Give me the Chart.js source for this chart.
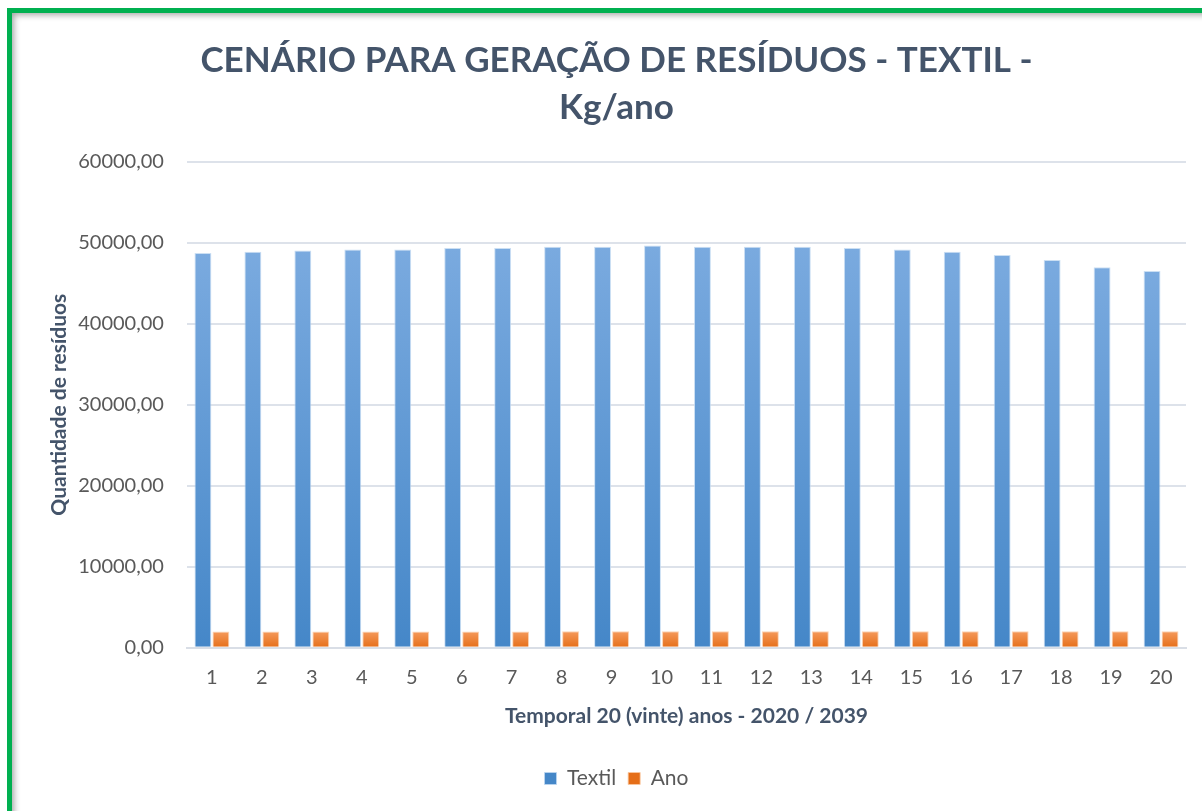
<!DOCTYPE html>
<html>
<head>
    <title>Cenário Textil</title>
    <script src="https://cdn.jsdelivr.net/npm/chart.js"></script>
    <style>
        body { margin: 0; background: #fff; overflow: hidden; }
        .frame {
            position: absolute; left: 7px; top: 8px; width: 1200px; height: 810px;
            border-top: 5px solid #00b050; border-left: 5px solid #00b050;
            box-shadow: inset 4px 4px 6px -2px rgba(0, 0, 0, 0.35);
        }
        #chart { position: absolute; left: 0; top: 0; }
    </style>
</head>
<body>
    <div class="frame">
        <canvas id="chart" width="1190" height="798"></canvas>
    </div>
    <script>
        // valores
        var periodos = ['1', '2', '3', '4', '5', '6', '7', '8', '9', '10',
            '11', '12', '13', '14', '15', '16', '17', '18', '19', '20'];
        var textil = [48700, 48860, 49030, 49150, 49150, 49320, 49320, 49480, 49480, 49650,
            49480, 49480, 49480, 49320, 49150, 48860, 48460, 47840, 46940, 46490];
        var ano = [2020, 2021, 2022, 2023, 2024, 2025, 2026, 2027, 2028, 2029,
            2030, 2031, 2032, 2033, 2034, 2035, 2036, 2037, 2038, 2039];

        var tituloCor = '#44546a';
        var textoCor = '#595959';
        var fonte = 'Lato, "Open Sans", sans-serif';

        // gradiente por barra (claro em cima, escuro embaixo)
        function gradiente(topo, base, meio) {
            return function (ctx) {
                var chart = ctx.chart;
                if (ctx.type !== 'data' || !chart.chartArea || !chart.scales.y) return meio;
                var y = chart.scales.y;
                var yTop = y.getPixelForValue(ctx.raw);
                var yBase = y.getPixelForValue(0);
                if (!isFinite(yTop) || yTop === yBase) return meio;
                var g = chart.ctx.createLinearGradient(0, yTop, 0, yBase);
                g.addColorStop(0, topo);
                g.addColorStop(1, base);
                return g;
            };
        }

        var ctx = document.getElementById('chart').getContext('2d');
        new Chart(ctx, {
            type: 'bar',
            data: {
                labels: periodos,
                datasets: [{
                    label: 'Textil',
                    data: textil,
                    backgroundColor: gradiente('#7aaadf', '#4587c8', '#5b9bd5'),
                    borderColor: 'rgba(190, 215, 240, 0.8)',
                    borderWidth: 1
                }, {
                    label: 'Ano',
                    data: ano,
                    backgroundColor: gradiente('#f59a5c', '#e56e18', '#ed7d31'),
                    borderColor: 'rgba(250, 200, 160, 0.8)',
                    borderWidth: 1
                }]
            },
            options: {
                responsive: false,
                animation: false,
                layout: { padding: { left: 35, right: 16, top: 20, bottom: 12 } },
                datasets: {
                    bar: { categoryPercentage: 0.72, barPercentage: 0.94 }
                },
                plugins: {
                    title: {
                        display: true,
                        text: ['CENÁRIO PARA GERAÇÃO DE RESÍDUOS - TEXTIL -', 'Kg/ano'],
                        color: tituloCor,
                        font: { family: fonte, size: 35, weight: 'bold', lineHeight: 1.35 },
                        padding: { top: 4, bottom: 30 }
                    },
                    legend: {
                        position: 'bottom',
                        labels: {
                            color: textoCor,
                            font: { family: fonte, size: 21 },
                            boxWidth: 12,
                            boxHeight: 12,
                            padding: 12
                        }
                    },
                    tooltip: { enabled: false }
                },
                scales: {
                    x: {
                        grid: { display: false },
                        border: { color: '#d9dee6', width: 2 },
                        ticks: { color: textoCor, font: { family: fonte, size: 20 }, padding: 10 },
                        title: {
                            display: true,
                            text: 'Temporal 20 (vinte) anos - 2020 / 2039',
                            color: tituloCor,
                            font: { family: fonte, size: 21, weight: 'bold' },
                            padding: { top: 4, bottom: 27 }
                        }
                    },
                    y: {
                        min: 0,
                        max: 60000,
                        grid: { color: '#dde2ea', lineWidth: 2, drawTicks: false },
                        border: { display: false },
                        ticks: {
                            stepSize: 10000,
                            color: textoCor,
                            font: { family: fonte, size: 20 },
                            padding: 23,
                            callback: function (v) { return v.toFixed(2).replace('.', ','); }
                        },
                        title: {
                            display: true,
                            text: 'Quantidade de resíduos',
                            color: tituloCor,
                            font: { family: fonte, size: 21, weight: 'bold' },
                            padding: { top: 0, bottom: -17 }
                        }
                    }
                }
            }
        });
    </script>
</body>
</html>
